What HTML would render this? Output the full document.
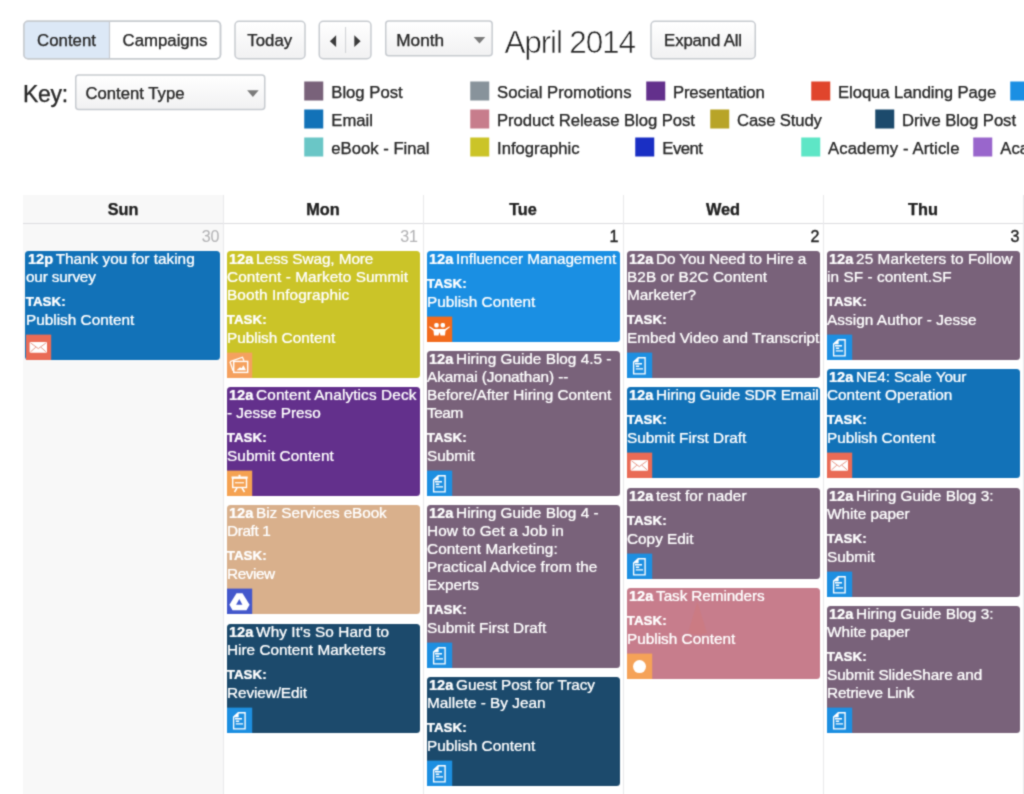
<!DOCTYPE html>
<html lang="en"><head><meta charset="utf-8"><title>April 2014 - Content Calendar</title>
<style>
*{box-sizing:border-box}
html,body{margin:0;padding:0}
html{background:#fff}
body{width:1024px;height:794px;overflow:hidden;background:#fff;position:relative}
#pg{position:absolute;left:0;top:0;width:1024px;height:794px;overflow:hidden;background:#fff;filter:url(#sf);
 font-family:"Liberation Sans",sans-serif;color:#333;font-size:17px;-webkit-text-stroke-width:0.25px;text-shadow:0 0 1px rgba(40,40,40,.3)}
.abs{position:absolute}
.tx{position:absolute;height:38px;line-height:39px;font-size:16.8px;text-align:center;color:#2a2a2a;white-space:nowrap}
.lg{position:absolute;height:19px;white-space:nowrap;font-size:16.7px;line-height:21px;color:#2a2a2a}
.lg b{position:absolute;left:0;top:0;width:19px;height:19px;transform:translate(0.25px,-0.5px)}
.lg span{position:absolute;left:27px;top:0}
.col{position:absolute;top:195px;height:599px;width:200px;border-left:1px solid #e9e9eb}
.hd{position:absolute;top:195.3px;height:28px;width:200px;text-align:center;font-weight:bold;font-size:16.3px;line-height:28px;color:#222}
.dn{position:absolute;top:227px;text-shadow:none;-webkit-text-stroke-width:0.25px;width:40px;text-align:right;font-size:16px;line-height:20px;color:#333}
.ev{position:absolute;border-radius:3.5px;color:#fff;-webkit-text-stroke-width:0.2px;text-shadow:0 0 1.2px rgba(255,255,255,.35);font-size:15.35px;line-height:18px;white-space:nowrap}
.ev .in{position:absolute;top:0;bottom:0;right:0}
.ev .t{position:absolute;left:0;top:-0.75px}
.ev .t b{margin-left:2px;margin-right:-1.52px;font-size:14.6px}
.ev .k{position:absolute;left:-0.25px;font-weight:bold;font-size:13.4px;line-height:16px}
.ev .d{position:absolute;left:0}
.ev .ic{position:absolute;left:0;bottom:0;overflow:visible}
</style></head>
<body>
<svg width="0" height="0" style="position:absolute" aria-hidden="true"><defs><filter id="sf" x="0" y="0" width="100%" height="100%" color-interpolation-filters="sRGB"><feConvolveMatrix order="3" kernelMatrix="1 3 1 3 12 3 1 3 1" divisor="28" edgeMode="duplicate" preserveAlpha="true"/></filter></defs></svg>
<div id="pg">
<svg class="abs" style="left:0;top:0" width="1024" height="120" viewBox="0 0 1024 120"><defs><linearGradient id="bg" x1="0" y1="0" x2="0" y2="1"><stop offset="0" stop-color="#ffffff"/><stop offset="1" stop-color="#f1f1f2"/></linearGradient><clipPath id="cl"><rect x="24" y="21.25" width="85.5" height="37.5"/></clipPath></defs><rect x="24" y="21.25" width="196.5" height="37.5" rx="4" fill="#fff" stroke="#c7cbd0" stroke-width="1.5"/><rect x="24" y="21.25" width="196.5" height="37.5" rx="4" fill="#dce8f6" clip-path="url(#cl)"/><path d="M109.5 21.5 V58.5" stroke="#c7cbd0" stroke-width="1.2"/><rect x="24" y="21.25" width="196.5" height="37.5" rx="4" fill="none" stroke="#c7cbd0" stroke-width="1.5"/><rect x="235" y="21.25" width="70" height="37.5" rx="4" fill="url(#bg)" stroke="#c7cbd0" stroke-width="1.5"/><rect x="319.25" y="21.25" width="51.7" height="37.5" rx="4" fill="url(#bg)" stroke="#c7cbd0" stroke-width="1.5"/><path d="M345.6 27 V53" stroke="#cfd1d4" stroke-width="1"/><path d="M336.1 35.3 V47 L329.9 41.15 Z" fill="#3a3a3a"/><path d="M354.3 35.3 V47 L360.6 41.15 Z" fill="#3a3a3a"/><rect x="385.75" y="21" width="106.4" height="34.75" rx="3" fill="url(#bg)" stroke="#c7cbd0" stroke-width="1.5"/><path d="M473.7 37 H485.3 L479.5 43.6 Z" fill="#7b7b7b"/><rect x="651" y="21.25" width="104.25" height="37.5" rx="4" fill="url(#bg)" stroke="#c7cbd0" stroke-width="1.5"/><rect x="75.75" y="75" width="189" height="34.5" rx="3" fill="url(#bg)" stroke="#c7cbd0" stroke-width="1.5"/><path d="M247.1 90.3 H258.7 L252.9 96.9 Z" fill="#7b7b7b"/></svg>
<div class="tx" style="left:23px;width:87px;top:21px">Content</div>
<div class="tx" style="left:110px;width:110px;top:21px">Campaigns</div>
<div class="tx" style="left:234.25px;width:71px;top:21px">Today</div>
<div class="tx" style="left:396.25px;top:20.5px;font-size:17.2px;text-align:left">Month</div>
<div class="abs" style="left:504.5px;top:23px;font-size:31.5px;line-height:38px;letter-spacing:-1.15px;color:#242424;-webkit-text-stroke:0.62px #fff;text-shadow:none;white-space:nowrap">April 2014</div>
<div class="tx" style="left:650px;width:106px;top:21px;letter-spacing:-0.15px">Expand All</div>
<div class="abs" style="left:23px;top:79px;font-size:23px;line-height:30px;letter-spacing:-0.3px;white-space:nowrap;color:#2a2a2a">Key:</div>
<div class="tx" style="left:85.5px;top:74px;font-size:16.7px;text-align:left">Content Type</div>
<div class="lg" style="left:304.25px;top:82px"><b style="background:#79627a"></b><span>Blog Post</span></div>
<div class="lg" style="left:470px;top:82px"><b style="background:#88939b"></b><span>Social Promotions</span></div>
<div class="lg" style="left:646px;top:82px"><b style="background:#63308c"></b><span style="letter-spacing:-0.18px">Presentation</span></div>
<div class="lg" style="left:811px;top:82px"><b style="background:#e0452c"></b><span style="letter-spacing:-0.08px">Eloqua Landing Page</span></div>
<div class="lg" style="left:1010px;top:82px"><b style="background:#1a8fe3"></b></div>
<div class="lg" style="left:304.25px;top:110px"><b style="background:#1272b8"></b><span>Email</span></div>
<div class="lg" style="left:470px;top:110px"><b style="background:#c77d8c"></b><span style="letter-spacing:-0.06px">Product Release Blog Post</span></div>
<div class="lg" style="left:710px;top:110px"><b style="background:#b8a428"></b><span style="letter-spacing:-0.15px">Case Study</span></div>
<div class="lg" style="left:875px;top:110px"><b style="background:#1c4a6c"></b><span style="letter-spacing:-0.07px">Drive Blog Post</span></div>
<div class="lg" style="left:304.25px;top:138px"><b style="background:#6ac6c6"></b><span>eBook - Final</span></div>
<div class="lg" style="left:470px;top:138px"><b style="background:#cbc428"></b><span>Infographic</span></div>
<div class="lg" style="left:635.25px;top:138px"><b style="background:#1a2fc4"></b><span style="letter-spacing:-0.5px">Event</span></div>
<div class="lg" style="left:801px;top:138px"><b style="background:#5ee6c6"></b><span style="letter-spacing:0.1px">Academy - Article</span></div>
<div class="lg" style="left:973.25px;top:138px"><b style="background:#9966cc"></b><span>Academy</span></div>
<div class="abs" style="left:23px;top:195px;width:200px;height:599px;background:#f8f8f8"></div>
<div class="abs" style="left:23px;top:223px;width:1001px;height:1px;background:#dddde0"></div>
<div class="col" style="left:223px"></div>
<div class="col" style="left:423px"></div>
<div class="col" style="left:623px"></div>
<div class="col" style="left:823px"></div>
<div class="col" style="left:1023px"></div>
<div class="hd" style="left:23px">Sun</div>
<div class="hd" style="left:223px">Mon</div>
<div class="hd" style="left:423px">Tue</div>
<div class="hd" style="left:623px">Wed</div>
<div class="hd" style="left:823px">Thu</div>
<div class="dn" style="left:179.5px;color:#b4b4b6;-webkit-text-stroke-width:0.1px">30</div>
<div class="dn" style="left:378px;color:#b4b4b6;-webkit-text-stroke-width:0.1px">31</div>
<div class="dn" style="left:578.5px;color:#252525;-webkit-text-stroke-width:0.4px">1</div>
<div class="dn" style="left:779.5px;color:#252525;-webkit-text-stroke-width:0.4px">2</div>
<div class="dn" style="left:979.5px;color:#252525;-webkit-text-stroke-width:0.4px">3</div>
<div class="ev" style="left:25px;top:251px;width:195px;height:109px;background:#1272b8"><div class="in" style="left:1px"><div class="t"><b>12p</b> <span>Thank you for taking</span> <br><span style="letter-spacing:-0.194px">our survey</span></div><div class="k" style="top:43.25px">TASK:</div><div class="d" style="top:60px"><span>Publish Content</span></div><svg class="ic" width="25" height="26" viewBox="0 -1 25 26"><rect x="0" y="-0.4" width="25.2" height="25.4" fill="#e96b56"/><rect x="3.6" y="6.9" width="17.4" height="10.8" rx="1.2" fill="#fff"/><path d="M4.6 7.9 L12.3 13.6 L20 7.9" fill="none" stroke="#e7998a" stroke-width="1"/><path d="M4.6 16.8 L9.8 12.2 M20 16.8 L14.8 12.2" fill="none" stroke="#e7998a" stroke-width="1"/></svg></div></div>
<div class="ev" style="left:227px;top:251px;width:193px;height:127px;background:#cbc428"><div class="in" style="left:0px"><div class="t"><b>12a</b> <span style="letter-spacing:-0.089px">Less Swag, More</span> <br><span style="letter-spacing:0.087px">Content - Marketo Summit</span> <br><span style="letter-spacing:0.125px">Booth Infographic</span></div><div class="k" style="top:61.25px">TASK:</div><div class="d" style="top:78px"><span>Publish Content</span></div><svg class="ic" width="25" height="26" viewBox="0 -1 25 26"><rect x="0" y="-0.4" width="25.2" height="25.4" fill="#f5a15e"/><path d="M3 8.7 L15.5 4.2 L17 7.7" fill="none" stroke="#fff" stroke-width="1.3"/><path d="M3 8.7 L6 17.7" fill="none" stroke="#fff" stroke-width="1.3"/><rect x="6.7" y="8.4" width="14" height="11" fill="none" stroke="#fff" stroke-width="1.4"/><path d="M9.5 17.2 L13 14.2 L14.5 15.2 L16.5 12.2 L19 17.2 Z" fill="#fff"/></svg></div></div>
<div class="ev" style="left:227px;top:387px;width:193px;height:109px;background:#63308c"><div class="in" style="left:0px"><div class="t"><b>12a</b> <span style="letter-spacing:0.120px">Content Analytics Deck</span> <br><span>- Jesse Preso</span></div><div class="k" style="top:43.25px">TASK:</div><div class="d" style="top:60px"><span style="letter-spacing:0.077px">Submit Content</span></div><svg class="ic" width="25" height="26" viewBox="0 -1 25 26"><rect x="0" y="-0.4" width="25.2" height="25.4" fill="#f5a252"/><rect x="4.5" y="5.5" width="16.2" height="2" fill="#fff"/><rect x="11.5" y="3.8" width="2" height="2" fill="#fff"/><rect x="5.7" y="7" width="13.8" height="9.5" fill="none" stroke="#fff" stroke-width="1.4"/><rect x="8" y="11" width="9" height="1.4" fill="#fff" opacity=".8"/><path d="M10 17 L7.5 21 M15 17 L17.5 21" stroke="#fff" stroke-width="1.5" fill="none"/></svg></div></div>
<div class="ev" style="left:227px;top:505px;width:193px;height:109px;background:#d9b08c"><div class="in" style="left:0px"><div class="t"><b>12a</b> <span style="letter-spacing:-0.088px">Biz Services eBook</span> <br><span style="letter-spacing:-0.375px">Draft 1</span></div><div class="k" style="top:43.25px">TASK:</div><div class="d" style="top:60px"><span style="letter-spacing:-0.450px">Review</span></div><svg class="ic" width="25" height="26" viewBox="0 -1 25 26"><rect x="0" y="-0.4" width="25.2" height="25.4" fill="#4458cc"/><path d="M9.5 4.2 H15.5 L22.6 15.8 L19.5 21.2 H5.5 L2.4 15.8 Z" fill="#fff"/><path d="M12.3 9.9 L15.4 15.8 H9.1 Z" fill="#4458cc"/></svg></div></div>
<div class="ev" style="left:227px;top:624px;width:193px;height:109px;background:#1c4a6c"><div class="in" style="left:0px"><div class="t"><b>12a</b> <span style="letter-spacing:0.069px">Why It&#x27;s So Hard to</span> <br><span>Hire Content Marketers</span></div><div class="k" style="top:43.25px">TASK:</div><div class="d" style="top:60px"><span style="letter-spacing:-0.100px">Review/Edit</span></div><svg class="ic" width="25" height="26" viewBox="0 -1 25 26"><rect x="0" y="-0.4" width="25.2" height="25.4" fill="#1d8fe1"/><path d="M11.3 4.7 H18.1 V20.8 H6.6 V9 Z" fill="none" stroke="#fff" stroke-width="1.35"/><path d="M6.6 9 L11.3 4.7 V9 Z" fill="#fff" stroke="#fff" stroke-width="0.6"/><path d="M8 10.8 H15 M8.8 13.3 H12.2 M8.8 15.9 H16" stroke="#fff" stroke-width="1.4" fill="none"/></svg></div></div>
<div class="ev" style="left:427px;top:251px;width:193px;height:91px;background:#1a8fe3"><div class="in" style="left:0px"><div class="t"><b>12a</b> <span style="letter-spacing:-0.050px">Influencer Management</span></div><div class="k" style="top:25.25px">TASK:</div><div class="d" style="top:42px"><span>Publish Content</span></div><svg class="ic" width="25" height="26" viewBox="0 -1 25 26"><rect x="0" y="-0.4" width="25.2" height="25.4" fill="#f26b1d"/><rect x="7.3" y="6" width="4.4" height="4.4" rx="1.6" fill="#fff"/><rect x="13.6" y="6" width="4.4" height="4.4" rx="1.6" fill="#fff"/><path d="M2.5 9.3 L7 12 H18 L22.5 9.3 L22.8 10.3 L18.5 13.8 L18 18.6 H13.5 L12.5 15.3 L11.5 18.6 H7 L6.5 13.8 L2.2 10.3 Z" fill="#fff"/></svg></div></div>
<div class="ev" style="left:427px;top:351px;width:193px;height:145px;background:#79627a"><div class="in" style="left:0px"><div class="t"><b>12a</b> <span>Hiring Guide Blog 4.5 -</span> <br><span style="letter-spacing:-0.105px">Akamai (Jonathan) --</span> <br><span>Before/After Hiring Content</span> <br><span style="letter-spacing:-0.450px">Team</span></div><div class="k" style="top:79.25px">TASK:</div><div class="d" style="top:96px"><span>Submit</span></div><svg class="ic" width="25" height="26" viewBox="0 -1 25 26"><rect x="0" y="-0.4" width="25.2" height="25.4" fill="#1d8fe1"/><path d="M11.3 4.7 H18.1 V20.8 H6.6 V9 Z" fill="none" stroke="#fff" stroke-width="1.35"/><path d="M6.6 9 L11.3 4.7 V9 Z" fill="#fff" stroke="#fff" stroke-width="0.6"/><path d="M8 10.8 H15 M8.8 13.3 H12.2 M8.8 15.9 H16" stroke="#fff" stroke-width="1.4" fill="none"/></svg></div></div>
<div class="ev" style="left:427px;top:505px;width:193px;height:163px;background:#79627a"><div class="in" style="left:0px"><div class="t"><b>12a</b> <span>Hiring Guide Blog 4 -</span> <br><span style="letter-spacing:0.111px">How to Get a Job in</span> <br><span style="letter-spacing:0.059px">Content Marketing:</span> <br><span style="letter-spacing:0.062px">Practical Advice from the</span> <br><span>Experts</span></div><div class="k" style="top:97.25px">TASK:</div><div class="d" style="top:114px"><span>Submit First Draft</span></div><svg class="ic" width="25" height="26" viewBox="0 -1 25 26"><rect x="0" y="-0.4" width="25.2" height="25.4" fill="#1d8fe1"/><path d="M11.3 4.7 H18.1 V20.8 H6.6 V9 Z" fill="none" stroke="#fff" stroke-width="1.35"/><path d="M6.6 9 L11.3 4.7 V9 Z" fill="#fff" stroke="#fff" stroke-width="0.6"/><path d="M8 10.8 H15 M8.8 13.3 H12.2 M8.8 15.9 H16" stroke="#fff" stroke-width="1.4" fill="none"/></svg></div></div>
<div class="ev" style="left:427px;top:677px;width:193px;height:109px;background:#1c4a6c"><div class="in" style="left:0px"><div class="t"><b>12a</b> <span style="letter-spacing:-0.052px">Guest Post for Tracy</span> <br><span>Mallete - By Jean</span></div><div class="k" style="top:43.25px">TASK:</div><div class="d" style="top:60px"><span>Publish Content</span></div><svg class="ic" width="25" height="26" viewBox="0 -1 25 26"><rect x="0" y="-0.4" width="25.2" height="25.4" fill="#1d8fe1"/><path d="M11.3 4.7 H18.1 V20.8 H6.6 V9 Z" fill="none" stroke="#fff" stroke-width="1.35"/><path d="M6.6 9 L11.3 4.7 V9 Z" fill="#fff" stroke="#fff" stroke-width="0.6"/><path d="M8 10.8 H15 M8.8 13.3 H12.2 M8.8 15.9 H16" stroke="#fff" stroke-width="1.4" fill="none"/></svg></div></div>
<div class="ev" style="left:627px;top:251px;width:193px;height:127px;background:#79627a"><div class="in" style="left:0px"><div class="t"><b>12a</b> <span style="letter-spacing:-0.125px">Do You Need to Hire a</span> <br><span style="letter-spacing:0.059px">B2B or B2C Content</span> <br><span>Marketer?</span></div><div class="k" style="top:61.25px">TASK:</div><div class="d" style="top:78px"><span style="letter-spacing:-0.040px">Embed Video and Transcript</span></div><svg class="ic" width="25" height="26" viewBox="0 -1 25 26"><rect x="0" y="-0.4" width="25.2" height="25.4" fill="#1d8fe1"/><path d="M11.3 4.7 H18.1 V20.8 H6.6 V9 Z" fill="none" stroke="#fff" stroke-width="1.35"/><path d="M6.6 9 L11.3 4.7 V9 Z" fill="#fff" stroke="#fff" stroke-width="0.6"/><path d="M8 10.8 H15 M8.8 13.3 H12.2 M8.8 15.9 H16" stroke="#fff" stroke-width="1.4" fill="none"/></svg></div></div>
<div class="ev" style="left:627px;top:387px;width:193px;height:91px;background:#1272b8"><div class="in" style="left:0px"><div class="t"><b>12a</b> <span style="letter-spacing:-0.095px">Hiring Guide SDR Email</span></div><div class="k" style="top:25.25px">TASK:</div><div class="d" style="top:42px"><span>Submit First Draft</span></div><svg class="ic" width="25" height="26" viewBox="0 -1 25 26"><rect x="0" y="-0.4" width="25.2" height="25.4" fill="#e96b56"/><rect x="3.6" y="6.9" width="17.4" height="10.8" rx="1.2" fill="#fff"/><path d="M4.6 7.9 L12.3 13.6 L20 7.9" fill="none" stroke="#e7998a" stroke-width="1"/><path d="M4.6 16.8 L9.8 12.2 M20 16.8 L14.8 12.2" fill="none" stroke="#e7998a" stroke-width="1"/></svg></div></div>
<div class="ev" style="left:627px;top:488px;width:193px;height:91px;background:#79627a"><div class="in" style="left:0px"><div class="t"><b>12a</b> <span>test for nader</span></div><div class="k" style="top:25.25px">TASK:</div><div class="d" style="top:42px"><span>Copy Edit</span></div><svg class="ic" width="25" height="26" viewBox="0 -1 25 26"><rect x="0" y="-0.4" width="25.2" height="25.4" fill="#1d8fe1"/><path d="M11.3 4.7 H18.1 V20.8 H6.6 V9 Z" fill="none" stroke="#fff" stroke-width="1.35"/><path d="M6.6 9 L11.3 4.7 V9 Z" fill="#fff" stroke="#fff" stroke-width="0.6"/><path d="M8 10.8 H15 M8.8 13.3 H12.2 M8.8 15.9 H16" stroke="#fff" stroke-width="1.4" fill="none"/></svg></div></div>
<div class="ev" style="left:627px;top:588px;width:193px;height:91px;background:#c77d8c"><div class="in" style="left:0px"><div class="t"><b>12a</b> <span style="letter-spacing:-0.116px">Task Reminders</span></div><div class="k" style="top:25.25px">TASK:</div><div class="d" style="top:42px"><span>Publish Content</span></div><svg class="ic" width="25" height="26" viewBox="0 -1 25 26"><rect x="0" y="-0.4" width="25.2" height="25.4" fill="#f5a258"/><circle cx="12.5" cy="12.6" r="6.5" fill="#fff"/></svg></div></div>
<div class="ev" style="left:827px;top:251px;width:193px;height:109px;background:#79627a"><div class="in" style="left:0px"><div class="t"><b>12a</b> <span style="letter-spacing:0.057px">25 Marketers to Follow</span> <br><span style="letter-spacing:0.059px">in SF - content.SF</span></div><div class="k" style="top:43.25px">TASK:</div><div class="d" style="top:60px"><span style="letter-spacing:0.055px">Assign Author - Jesse</span></div><svg class="ic" width="25" height="26" viewBox="0 -1 25 26"><rect x="0" y="-0.4" width="25.2" height="25.4" fill="#1d8fe1"/><path d="M11.3 4.7 H18.1 V20.8 H6.6 V9 Z" fill="none" stroke="#fff" stroke-width="1.35"/><path d="M6.6 9 L11.3 4.7 V9 Z" fill="#fff" stroke="#fff" stroke-width="0.6"/><path d="M8 10.8 H15 M8.8 13.3 H12.2 M8.8 15.9 H16" stroke="#fff" stroke-width="1.4" fill="none"/></svg></div></div>
<div class="ev" style="left:827px;top:369px;width:193px;height:109px;background:#1272b8"><div class="in" style="left:0px"><div class="t"><b>12a</b> <span style="letter-spacing:-0.107px">NE4: Scale Your</span> <br><span>Content Operation</span></div><div class="k" style="top:43.25px">TASK:</div><div class="d" style="top:60px"><span>Publish Content</span></div><svg class="ic" width="25" height="26" viewBox="0 -1 25 26"><rect x="0" y="-0.4" width="25.2" height="25.4" fill="#e96b56"/><rect x="3.6" y="6.9" width="17.4" height="10.8" rx="1.2" fill="#fff"/><path d="M4.6 7.9 L12.3 13.6 L20 7.9" fill="none" stroke="#e7998a" stroke-width="1"/><path d="M4.6 16.8 L9.8 12.2 M20 16.8 L14.8 12.2" fill="none" stroke="#e7998a" stroke-width="1"/></svg></div></div>
<div class="ev" style="left:827px;top:488px;width:193px;height:109px;background:#79627a"><div class="in" style="left:0px"><div class="t"><b>12a</b> <span>Hiring Guide Blog 3:</span> <br><span>White paper</span></div><div class="k" style="top:43.25px">TASK:</div><div class="d" style="top:60px"><span>Submit</span></div><svg class="ic" width="25" height="26" viewBox="0 -1 25 26"><rect x="0" y="-0.4" width="25.2" height="25.4" fill="#1d8fe1"/><path d="M11.3 4.7 H18.1 V20.8 H6.6 V9 Z" fill="none" stroke="#fff" stroke-width="1.35"/><path d="M6.6 9 L11.3 4.7 V9 Z" fill="#fff" stroke="#fff" stroke-width="0.6"/><path d="M8 10.8 H15 M8.8 13.3 H12.2 M8.8 15.9 H16" stroke="#fff" stroke-width="1.4" fill="none"/></svg></div></div>
<div class="ev" style="left:827px;top:605.5px;width:193px;height:127px;background:#79627a"><div class="in" style="left:0px"><div class="t"><b>12a</b> <span>Hiring Guide Blog 3:</span> <br><span>White paper</span></div><div class="k" style="top:43.25px">TASK:</div><div class="d" style="top:60px"><span style="letter-spacing:-0.088px">Submit SlideShare and</span> <br><span style="letter-spacing:-0.167px">Retrieve Link</span></div><svg class="ic" width="25" height="26" viewBox="0 -1 25 26"><rect x="0" y="-0.4" width="25.2" height="25.4" fill="#1d8fe1"/><path d="M11.3 4.7 H18.1 V20.8 H6.6 V9 Z" fill="none" stroke="#fff" stroke-width="1.35"/><path d="M6.6 9 L11.3 4.7 V9 Z" fill="#fff" stroke="#fff" stroke-width="0.6"/><path d="M8 10.8 H15 M8.8 13.3 H12.2 M8.8 15.9 H16" stroke="#fff" stroke-width="1.4" fill="none"/></svg></div></div>
<svg class="abs" style="left:686px;top:600px" width="24" height="36" viewBox="0 0 24 36"><path d="M11.3 1.5 L21 33 Q11 36 2 33 Z" fill="#e0785a" opacity="0.16"/></svg>
</div>
</body></html>
